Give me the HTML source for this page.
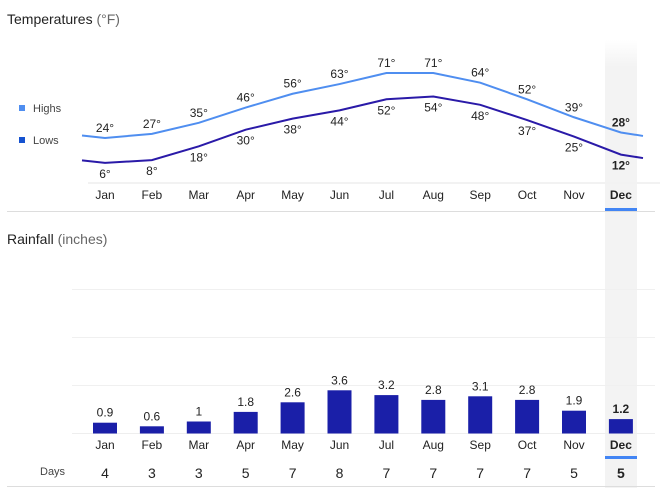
<!DOCTYPE html>
<html><head><meta charset="utf-8"><style>
body{margin:0;background:#fff;font-family:"Liberation Sans",Arial,sans-serif;}
svg{display:block}
</style></head><body>
<svg id="c" width="666" height="493" viewBox="0 0 666 493">
<defs><linearGradient id="hl" x1="0" y1="0" x2="0" y2="1"><stop offset="0" stop-color="#f3f3f3" stop-opacity="0"/><stop offset="0.06" stop-color="#f3f3f3"/><stop offset="1" stop-color="#f3f3f3"/></linearGradient></defs>
<rect x="605" y="40" width="32" height="448" fill="url(#hl)"/>
<text x="7" y="24" font-size="14" fill="#222">Temperatures <tspan fill="#666">(°F)</tspan></text>
<rect x="19" y="105" width="6" height="6" fill="#4f8ef0"/>
<text x="33" y="112" font-size="11" fill="#444">Highs</text>
<rect x="19" y="137" width="6" height="6" fill="#1552d0"/>
<text x="33" y="144" font-size="11" fill="#444">Lows</text>
<line x1="88" y1="183" x2="660" y2="183" stroke="#f2f2f2" stroke-width="2"/>
<line x1="7" y1="211.5" x2="655" y2="211.5" stroke="#ddd"/>
<rect x="605" y="208" width="32" height="3" fill="#4285f4"/>
<text x="7" y="244" font-size="14" fill="#222">Rainfall <tspan fill="#666">(inches)</tspan></text>
<text x="40" y="475" font-size="11" fill="#444">Days</text>
<line x1="7" y1="486.5" x2="655" y2="486.5" stroke="#ddd"/>
<rect x="605" y="456" width="32" height="3" fill="#4285f4"/>
<g id="g"></g>
</svg>
<script>
const months=["Jan","Feb","Mar","Apr","May","Jun","Jul","Aug","Sep","Oct","Nov","Dec"];
const highs=[24,27,35,46,56,63,71,71,64,52,39,28];
const lows=[6,8,18,30,38,44,52,54,48,37,25,12];
const rain=[0.9,0.6,1,1.8,2.6,3.6,3.2,2.8,3.1,2.8,1.9,1.2];
const rainLabels=["0.9","0.6","1","1.8","2.6","3.6","3.2","2.8","3.1","2.8","1.9","1.2"];
const days=[4,3,3,5,7,8,7,7,7,7,5,5];
const rainGrid=[4,8,12];
const NS="http://www.w3.org/2000/svg";
const g=document.getElementById('g');
const X=i=>105+i*46.9;
const TY=v=>138-(v-24)*1.383;
const RY=v=>433.5-v*12;
function mk(t,a,txt){const e=document.createElementNS(NS,t);for(const k in a)e.setAttribute(k,a[k]);if(txt!==undefined)e.textContent=txt;g.appendChild(e);return e;}
rainGrid.forEach(v=>{const e=mk('line',{x1:72,x2:655,y1:RY(v),y2:RY(v),stroke:'#f0f0f0'});

});
const bl=mk('line',{x1:72,x2:655,y1:433.5,y2:433.5,stroke:'#eee'});


function line(arr,col,name){
 const n=arr.length;
 let pts=[[82,TY(arr[0]+1.8)]];
 arr.forEach((v,i)=>pts.push([X(i),TY(v)]));
 pts.push([643,TY(arr[n-1]-2.5)]);
 const p=mk('polyline',{points:pts.map(p=>p.join(',')).join(' '),fill:'none',stroke:col,'stroke-width':2});
 
 
}
line(highs,'#4f8ef0','highs-line');
line(lows,'#2a1aa8','lows-line');
months.forEach((m,i)=>{
 const b=i==11?'bold':'normal';
 const h=mk('text',{x:X(i),y:TY(highs[i])-6,'font-size':12,'text-anchor':'middle',fill:'#222','font-weight':b},highs[i]+'°');
 
 
 const l=mk('text',{x:X(i),y:TY(lows[i])+15,'font-size':12,'text-anchor':'middle',fill:'#222','font-weight':b},lows[i]+'°');
 
 
 const t=mk('text',{x:X(i),y:199,'font-size':12,'text-anchor':'middle',fill:'#222','font-weight':b},m);
 
 
 const r=mk('rect',{x:X(i)-12,y:RY(rain[i]),width:24,height:433.5-RY(rain[i]),fill:'#1a1fa8'});
 
 
 const rv=mk('text',{x:X(i),y:RY(rain[i])-6,'font-size':12,'text-anchor':'middle',fill:'#222','font-weight':b},rainLabels[i]);
 
 
 const rm=mk('text',{x:X(i),y:449,'font-size':12,'text-anchor':'middle',fill:'#222','font-weight':b},m);
 
 
 const d=mk('text',{x:X(i),y:478,'font-size':14,'text-anchor':'middle',fill:'#222','font-weight':b},days[i]);
 
 
});
</script>
</body></html>
